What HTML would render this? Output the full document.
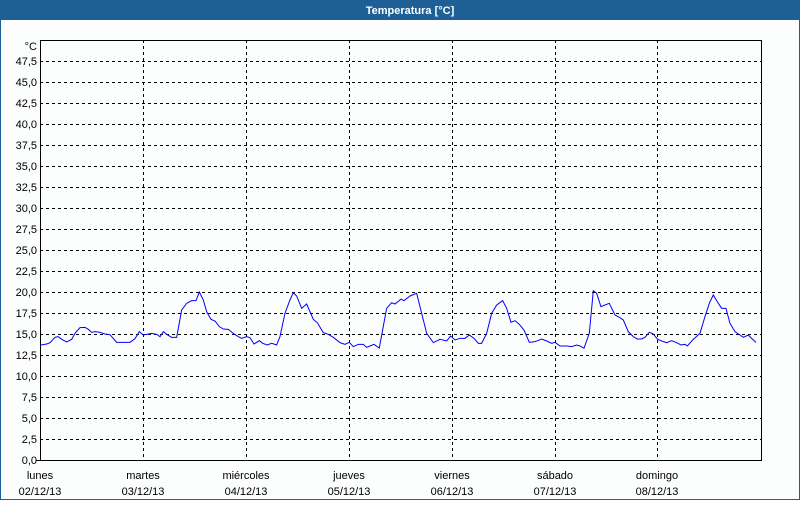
<!DOCTYPE html>
<html><head><style>
body{margin:0;width:800px;height:500px;overflow:hidden;background:#fff;font-family:"Liberation Sans",sans-serif}
</style></head><body>
<svg width="800" height="500" xmlns="http://www.w3.org/2000/svg" font-family="Liberation Sans, sans-serif" font-size="11">
<rect x="0" y="0" width="800" height="500" fill="#fcfdfd"/>
<rect x="0.5" y="0.5" width="799" height="499" fill="none" stroke="#1e5f96"/>
<rect x="0" y="0" width="800" height="20" fill="#1e5f96"/>
<text x="410" y="14" fill="#fff" font-weight="bold" text-anchor="middle">Temperatura [°C]</text>
<g stroke="#000" stroke-dasharray="3,3" stroke-width="1" shape-rendering="crispEdges">
<line x1="40" x2="762" y1="61.5" y2="61.5"/><line x1="40" x2="762" y1="82.5" y2="82.5"/><line x1="40" x2="762" y1="103.5" y2="103.5"/><line x1="40" x2="762" y1="124.5" y2="124.5"/><line x1="40" x2="762" y1="145.5" y2="145.5"/><line x1="40" x2="762" y1="166.5" y2="166.5"/><line x1="40" x2="762" y1="187.5" y2="187.5"/><line x1="40" x2="762" y1="208.5" y2="208.5"/><line x1="40" x2="762" y1="229.5" y2="229.5"/><line x1="40" x2="762" y1="250.5" y2="250.5"/><line x1="40" x2="762" y1="271.5" y2="271.5"/><line x1="40" x2="762" y1="292.5" y2="292.5"/><line x1="40" x2="762" y1="313.5" y2="313.5"/><line x1="40" x2="762" y1="334.5" y2="334.5"/><line x1="40" x2="762" y1="355.5" y2="355.5"/><line x1="40" x2="762" y1="376.5" y2="376.5"/><line x1="40" x2="762" y1="397.5" y2="397.5"/><line x1="40" x2="762" y1="418.5" y2="418.5"/><line x1="40" x2="762" y1="439.5" y2="439.5"/>
<line x1="143.5" x2="143.5" y1="40" y2="460"/><line x1="246.5" x2="246.5" y1="40" y2="460"/><line x1="349.5" x2="349.5" y1="40" y2="460"/><line x1="452.5" x2="452.5" y1="40" y2="460"/><line x1="555.5" x2="555.5" y1="40" y2="460"/><line x1="657.5" x2="657.5" y1="40" y2="460"/>
</g>
<g stroke="#000" fill="none" shape-rendering="crispEdges">
<polyline points="40.5,460 40.5,40.5 761.5,40.5 761.5,460.5 40,460.5"/>
<line x1="36" x2="40" y1="460.5" y2="460.5"/>
</g>
<g fill="#000" text-anchor="end">
<text x="37" y="50">°C</text>
<text x="37" y="65">47,5</text><text x="37" y="86">45,0</text><text x="37" y="107">42,5</text><text x="37" y="128">40,0</text><text x="37" y="149">37,5</text><text x="37" y="170">35,0</text><text x="37" y="191">32,5</text><text x="37" y="212">30,0</text><text x="37" y="233">27,5</text><text x="37" y="254">25,0</text><text x="37" y="275">22,5</text><text x="37" y="296">20,0</text><text x="37" y="317">17,5</text><text x="37" y="338">15,0</text><text x="37" y="359">12,5</text><text x="37" y="380">10,0</text><text x="37" y="401">7,5</text><text x="37" y="422">5,0</text><text x="37" y="443">2,5</text><text x="37" y="464">0,0</text>
</g>
<g fill="#000" text-anchor="middle">
<text x="40" y="479">lunes</text><text x="40" y="495">02/12/13</text>
<text x="143" y="479">martes</text><text x="143" y="495">03/12/13</text>
<text x="246" y="479">miércoles</text><text x="246" y="495">04/12/13</text>
<text x="349" y="479">jueves</text><text x="349" y="495">05/12/13</text>
<text x="452" y="479">viernes</text><text x="452" y="495">06/12/13</text>
<text x="555" y="479">sábado</text><text x="555" y="495">07/12/13</text>
<text x="657" y="479">domingo</text><text x="657" y="495">08/12/13</text>
</g>
<g fill="none" stroke="#0000ff" stroke-width="1">
<polyline transform="translate(30,280) scale(0.3333)" vector-effect="non-scaling-stroke" points="33,195 50,192 60,188 75,172 85,170 95,178 110,186 125,178 135,160 150,143 165,142 175,148 185,157 195,155 210,157 225,162 240,164 260,187 280,187 300,187 315,176 328,155 340,165 350,163 365,160 380,163 390,170 400,155 410,163 425,172 440,172 455,90 470,70 485,62 498,62 508,36 520,60 530,95 543,118 555,123 568,140 580,147 595,148 610,160 625,170 635,175 650,170 660,173 672,192 688,182 698,190 712,195 725,190 740,195 750,170 765,100 780,60 790,38 800,48 815,85 830,72 840,95 850,118 862,128 880,158 895,163 910,172 930,188 945,193 958,187 970,200 985,193 1000,193 1010,202 1020,198 1032,193 1048,204 1058,150 1070,85 1085,68 1095,72 1110,60 1113,57"/>
<polyline transform="translate(400,280) scale(0.3333)" vector-effect="non-scaling-stroke" points="3,57 12,62 30,48 50,40 65,100 80,160 100,188 120,178 140,183 152,168 165,180 180,175 195,175 208,165 222,175 235,190 245,190 260,160 275,100 290,75 308,62 320,85 333,127 345,122 358,133 372,150 388,187 405,185 425,177 440,183 455,190 465,187 480,198 500,198 515,200 530,195 540,198 552,205 568,160 580,32 590,40 603,80 615,75 628,70 645,105 660,113 670,120 685,155 700,170 712,177 725,177 735,172 748,157 760,162 773,178 790,185 800,188 815,182 830,188 843,195 855,193 862,198 880,178 900,160 915,110 928,70 940,45 950,62 965,85 978,85 990,130 1005,155 1020,165 1030,172 1045,165 1055,175 1068,187"/>
</g>
</svg>
</body></html>
